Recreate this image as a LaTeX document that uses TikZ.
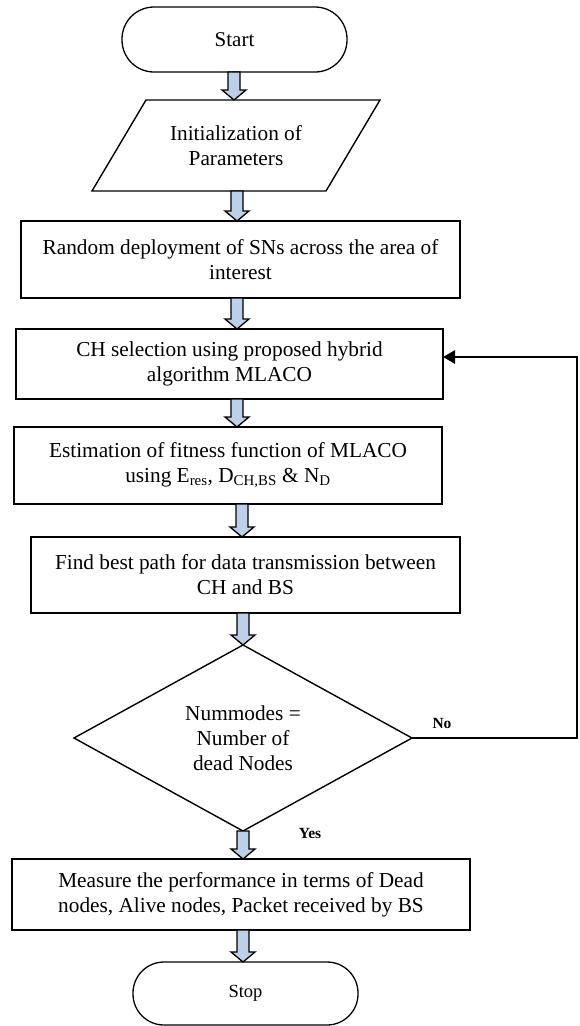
\documentclass[tikz,border=0pt]{standalone}
\usepackage{fontspec}
\setmainfont{Liberation Serif}
\usetikzlibrary{shapes.geometric,arrows.meta,calc}
\definecolor{arrowblue}{HTML}{BDD0E9}
\newcommand\blockarrow[3]{%
  \path[barrow] let \p1=(#2), \p2=(#3) in
   (#1pt-6pt,\y1) -- (#1pt+6pt,\y1) -- (#1pt+6pt,\y2+10pt) -- (#1pt+12pt,\y2+10pt)
   -- (#1pt,\y2) -- (#1pt-12pt,\y2+10pt) -- (#1pt-6pt,\y2+10pt) -- cycle;}
\tikzset{
  txt/.style={font=\fontsize{21.3}{25}\selectfont},
  box/.style={draw, line width=1.6pt, align=center, inner sep=0pt, outer sep=0pt, txt},
  term/.style={draw, line width=1.3pt, rounded corners=32pt, minimum width=225pt,
    minimum height=65pt, inner sep=0pt, outer sep=0pt},
  barrow/.style={draw, fill=arrowblue, line width=1.3pt, line join=miter},
  lbl/.style={font=\bfseries\fontsize{15.5}{18}\selectfont},
  fback/.style={line width=2.8pt, -{Triangle[length=12pt,width=13pt]}}
}
\begin{document}
\begin{tikzpicture}[x=1pt,y=-1pt]
\useasboundingbox (0,0) rectangle (580,1026);
\node[term, font=\fontsize{21}{25}\selectfont] (start) at (234.5,39.5) {Start};
\node[txt, align=center, minimum height=91pt, minimum width=234pt, inner sep=0pt, outer sep=0pt] (par) at (236,145.5) {Initialization of\\Parameters};
\draw[line width=1.4pt, line join=miter] (92,191) -- (146,100) -- (380,100) -- (326,191) -- cycle;
\node[box, minimum width=439pt, minimum height=77pt] (b3) at (240.5,259.5) {Random deployment of SNs across the area of\\interest};
\node[box, minimum width=427pt, minimum height=70pt] (b4) at (229.5,364) {CH selection using proposed hybrid\\algorithm MLACO};
\node[box, minimum width=428pt, minimum height=77pt] (b5) at (228,465.5) {Estimation of fitness function of MLACO\\using E\textsubscript{res}, D\textsubscript{CH,BS} \& N\textsubscript{D}};
\node[box, minimum width=429pt, minimum height=76pt] (b6) at (245.5,575) {Find best path for data transmission between\\CH and BS};
\node[diamond, draw, line width=1.4pt, minimum width=338pt, minimum height=186pt, aspect=1.8,
  inner sep=0pt, outer sep=0pt, align=center, txt] (dec) at (243,738) {Nummodes =\\Number of\\dead Nodes};
\node[box, minimum width=458pt, minimum height=71pt] (b8) at (241,894.5) {Measure the performance in terms of Dead\\nodes, Alive nodes, Packet received by BS};
\node[term, minimum height=63pt, rounded corners=31pt, font=\fontsize{18.5}{22}\selectfont] (stop) at (245.5,993.5) {Stop};
\blockarrow{234}{start.south}{par.north}
\blockarrow{237}{par.south}{b3.north}
\blockarrow{237}{b3.south}{b4.north}
\blockarrow{237}{b4.south}{b5.north}
\blockarrow{242}{b5.south}{b6.north}
\blockarrow{243}{b6.south}{dec.north}
\blockarrow{243}{dec.south}{b8.north}
\blockarrow{243}{b8.south}{stop.north}
\coordinate (fb) at (577,357);
\draw[fback] (dec.east) -| (fb) -- (b4.east |- fb);
\node[lbl] (no) at (442,723) {No};
\node[lbl] (yes) at (310,833) {Yes};
\end{tikzpicture}
\end{document}
